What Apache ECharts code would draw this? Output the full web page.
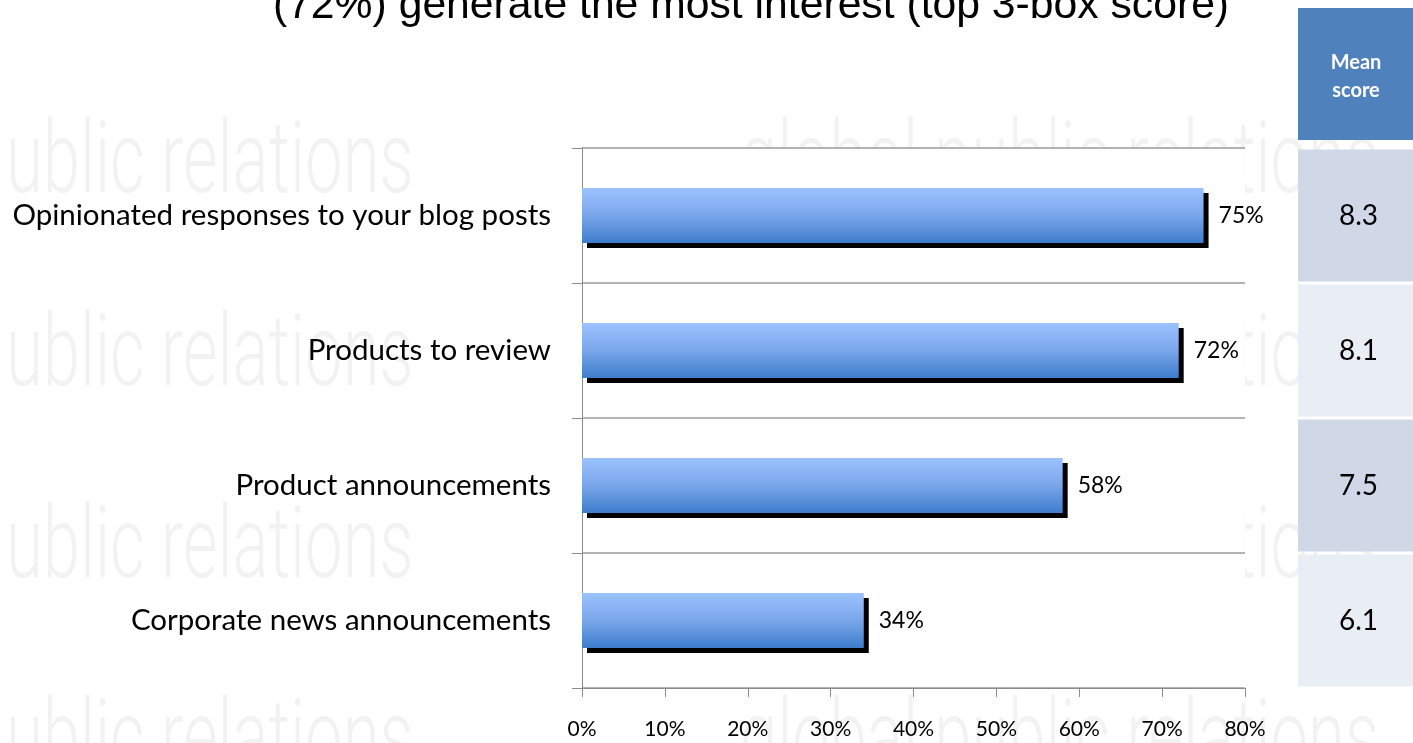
<!DOCTYPE html>
<html>
<head>
<meta charset="utf-8">
<script src="https://cdn.jsdelivr.net/npm/echarts@6/dist/echarts.min.js"></script>
<style>
  html, body { margin: 0; padding: 0; background: #fff; }
  #chart { width: 1413px; height: 743px; }
</style>
</head>
<body>
<div id="chart"></div>
<script>
// Content types bloggers are interested in
const categories = [
  'Opinionated responses to your blog posts',
  'Products to review',
  'Product announcements',
  'Corporate news announcements'
];
// Share giving a top 3-box score (%)
const topBoxShare = [75, 72, 58, 34];
// Mean score on the 10-point scale
const meanScores = [8.3, 8.1, 7.5, 6.1];
const headline = '(72%) generate the most interest (top 3-box score)';
const tableHeader = 'Mean\nscore';
const watermarkLeft = 'ublic relations';
const watermarkRight = 'global public relations';

const FONT = 'Lato, "Open Sans", sans-serif';
const axisGray = '#8c8c8c';

// faint background lettering, one line every 192px
const watermark = [];
[192, 385, 577, 770].forEach(function (base) {
  [[6, watermarkLeft], [740, watermarkRight]].forEach(function (w) {
    watermark.push({
      type: 'text', z: -10, silent: true, x: w[0], y: base + 25, scaleX: 0.67,
      style: { text: w[1], fontFamily: 'Roboto', fontWeight: 300, fontSize: 100,
               fill: '#f2f2f2', textVerticalAlign: 'bottom' }
    });
  });
});

const chart = echarts.init(document.getElementById('chart'));
chart.setOption({
  animation: false,
  backgroundColor: '#fff',
  graphic: watermark.concat([
    {
      type: 'text', z: 5, x: 751, y: 6,
      style: { text: headline, fontFamily: '"Liberation Sans", Arial, sans-serif', fontSize: 42.7,
               fill: '#000', textAlign: 'center', textVerticalAlign: 'middle' }
    },
    {
      type: 'group', z: 5,
      children: [
        { type: 'rect', shape: { x: 1298, y: 8, width: 115, height: 132 }, style: { fill: '#4f81bd' } },
        { type: 'text', x: 1356, y: 77,
          style: { text: tableHeader, fontFamily: FONT, fontWeight: 'bold', fontSize: 20, lineHeight: 28,
                   fill: '#fff', textAlign: 'center', textVerticalAlign: 'middle' } }
      ]
    }
  ]),
  grid: [
    { left: 582, top: 148, width: 663, height: 540, show: true, backgroundColor: '#fff', borderWidth: 0 },
    { left: 1298, top: 148, width: 115, height: 540 }
  ],
  xAxis: [
    {
      type: 'value', gridIndex: 0, min: 0, max: 80, interval: 10,
      axisLine: { show: true, lineStyle: { color: axisGray, width: 1 } },
      axisTick: { show: true, length: 9, lineStyle: { color: axisGray } },
      splitLine: { show: false },
      axisLabel: { formatter: '{value}%', fontFamily: FONT, fontSize: 21, color: '#000', margin: 31 }
    },
    { type: 'value', gridIndex: 1, min: 0, max: 10, show: false }
  ],
  yAxis: [
    {
      type: 'category', gridIndex: 0, data: categories, inverse: true,
      axisLine: { show: true, lineStyle: { color: axisGray, width: 1 } },
      axisTick: { show: true, length: 10, lineStyle: { color: axisGray } },
      splitLine: { show: true, lineStyle: { color: '#9a9a9a', width: 1.5 } },
      axisLabel: { fontFamily: FONT, fontSize: 29.5, color: '#000', margin: 31 }
    },
    { type: 'category', gridIndex: 1, data: categories, inverse: true, show: false }
  ],
  series: [
    {
      type: 'bar', xAxisIndex: 0, yAxisIndex: 0, data: topBoxShare, barWidth: 55, z: 3,
      itemStyle: {
        color: new echarts.graphic.LinearGradient(0, 0, 0, 1, [
          { offset: 0, color: '#9cc2ff' },
          { offset: 0.5, color: '#7aa6ea' },
          { offset: 1, color: '#3d7dcc' }
        ]),
        shadowColor: '#000', shadowBlur: 0, shadowOffsetX: 5, shadowOffsetY: 5
      },
      label: {
        show: true, position: 'right', distance: 15, formatter: '{c}%',
        fontFamily: FONT, fontSize: 23, color: '#000'
      }
    },
    {
      // mean-score column: one shaded cell per category
      type: 'custom', xAxisIndex: 1, yAxisIndex: 1, z: 3,
      data: meanScores.map(function (s, i) { return [s, i]; }),
      encode: { x: 0, y: 1 },
      renderItem: function (params, api) {
        const cy = api.coord([0, api.value(1)])[1];
        const band = api.size([0, 1])[1];
        const cs = params.coordSys;
        const fill = api.value(1) % 2 === 0 ? '#d0d8e8' : '#e9edf4';
        return {
          type: 'group',
          children: [
            { type: 'rect', shape: { x: cs.x, y: cy - band / 2 + 1.5, width: cs.width, height: band - 3 },
              style: { fill: fill } },
            { type: 'text', x: cs.x + cs.width / 2 + 3, y: cy,
              style: { text: api.value(0).toFixed(1), fontFamily: FONT, fontSize: 28, fill: '#000',
                       textAlign: 'center', textVerticalAlign: 'middle' } }
          ]
        };
      }
    }
  ]
});
</script>
</body>
</html>
